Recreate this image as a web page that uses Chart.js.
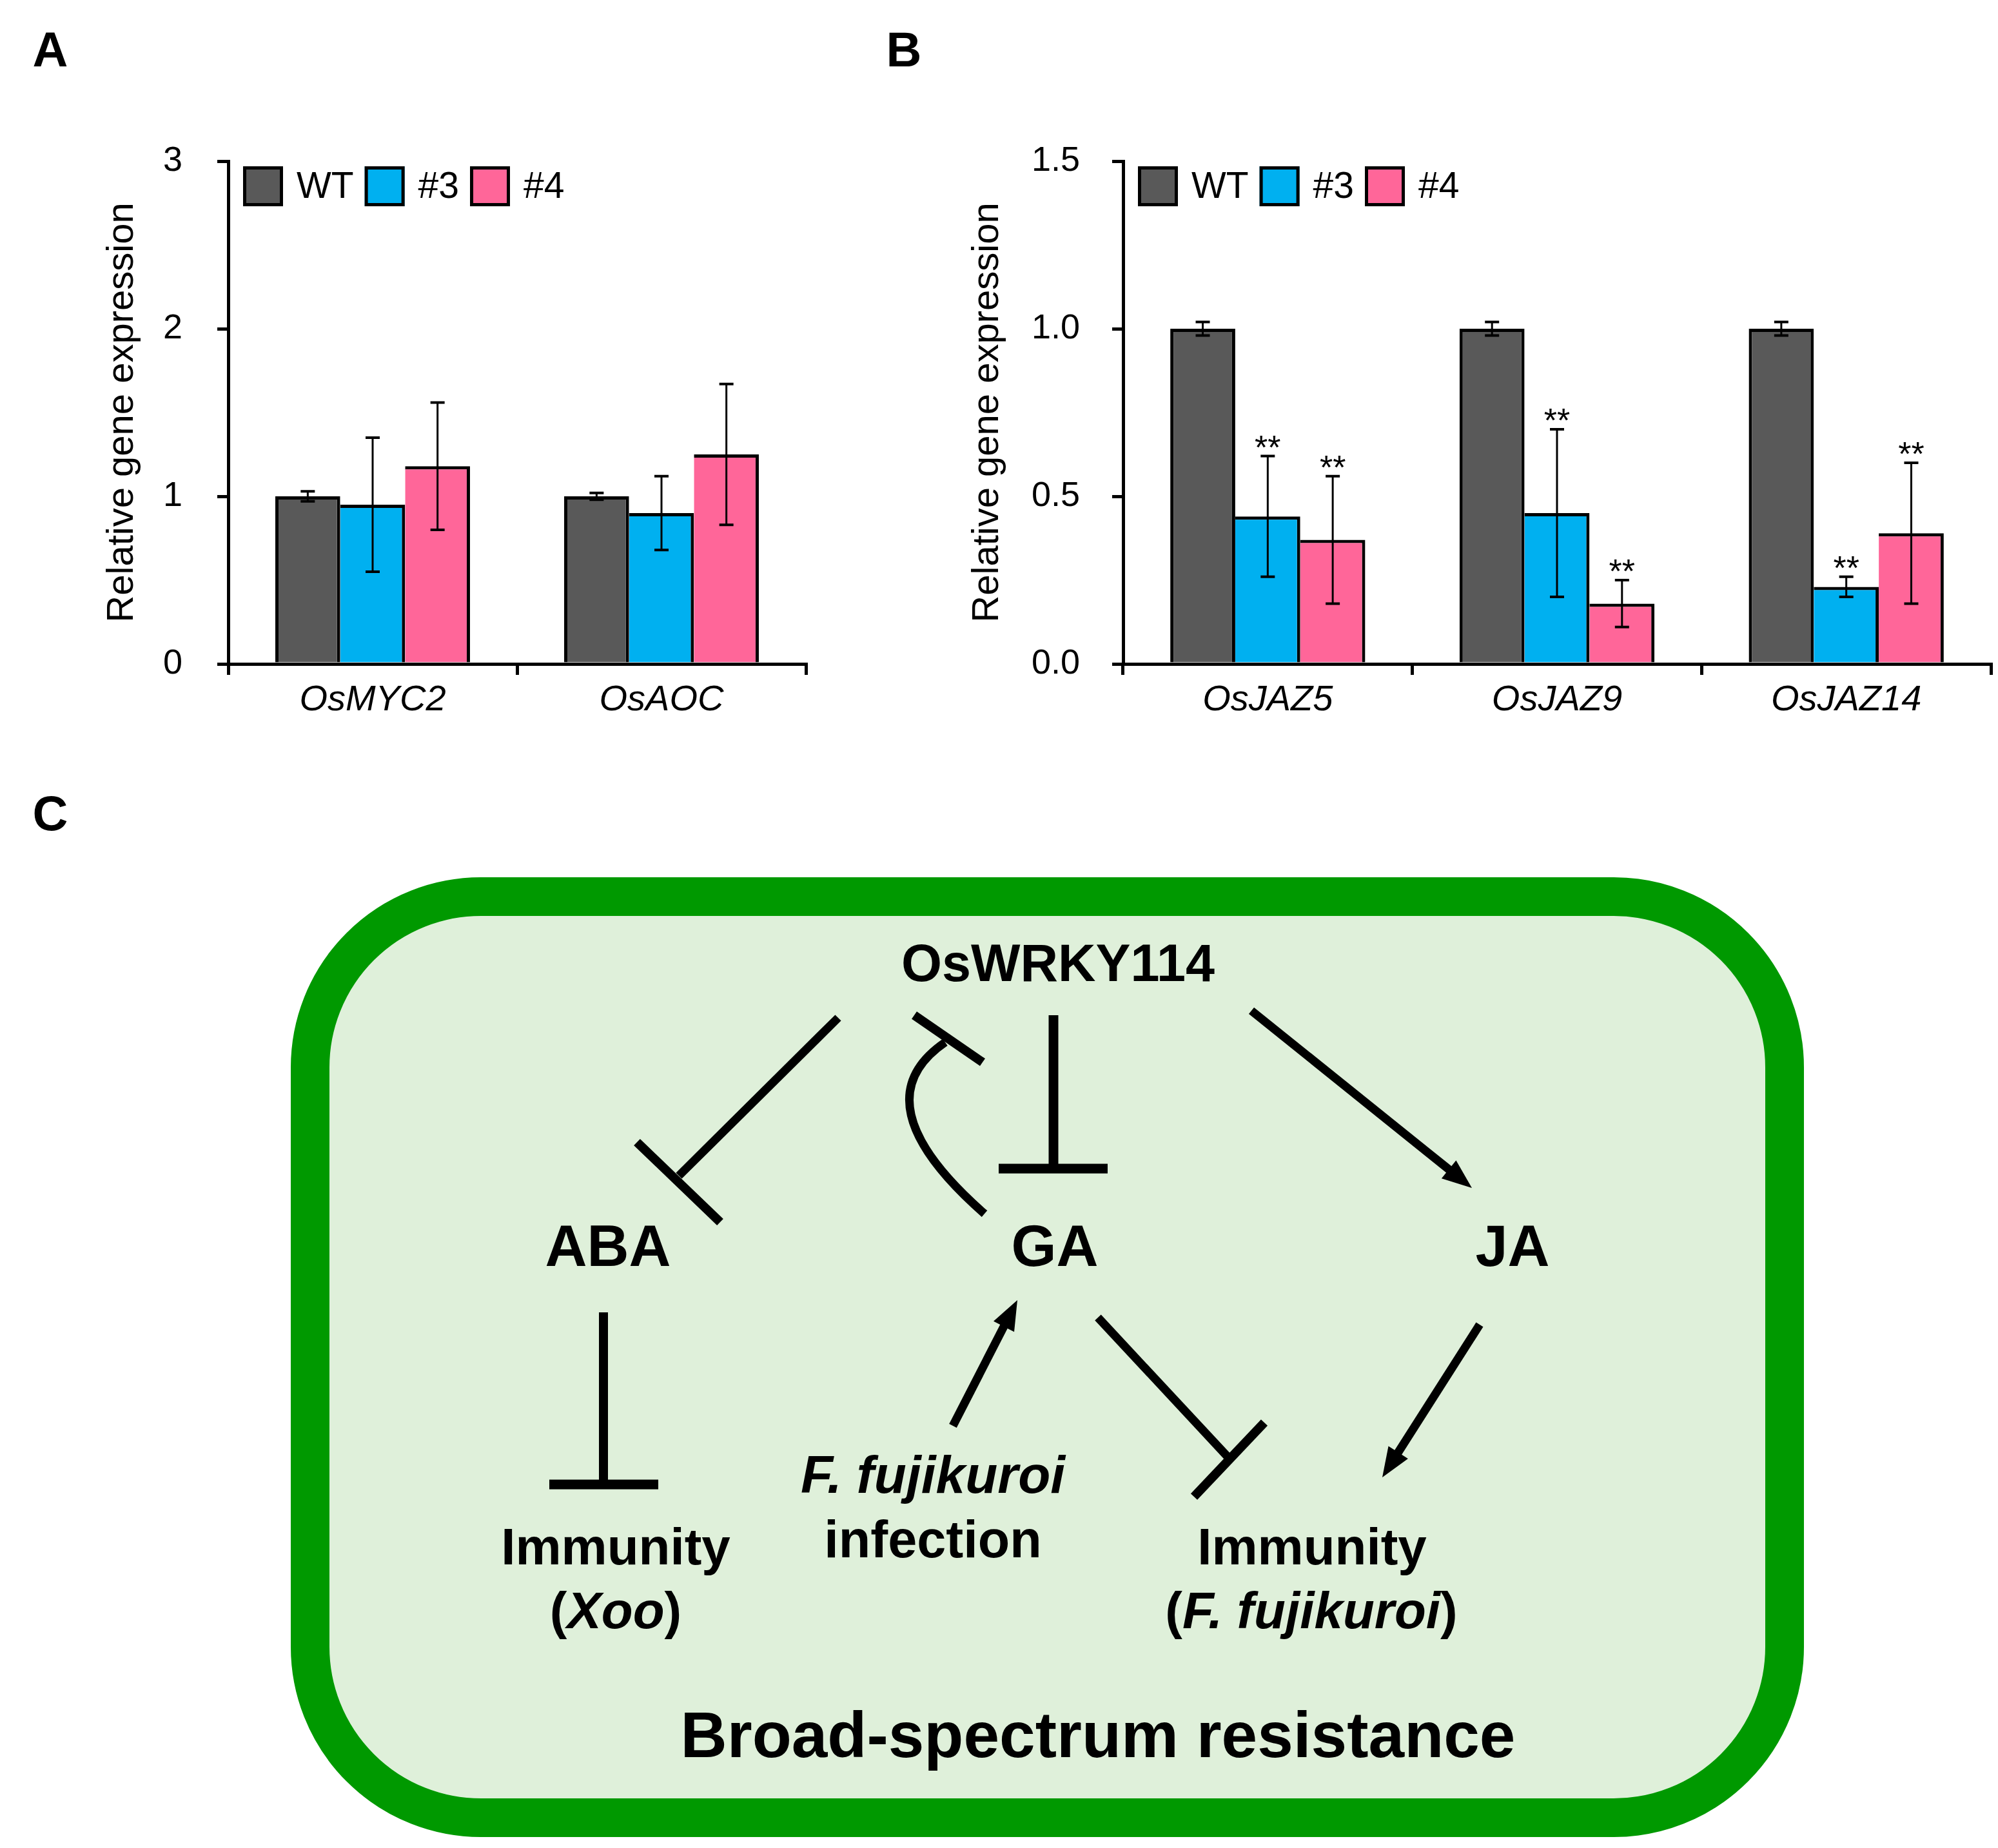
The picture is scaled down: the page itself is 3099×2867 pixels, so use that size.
<!DOCTYPE html>
<html>
<head>
<meta charset="utf-8">
<script src="https://cdn.jsdelivr.net/npm/chart.js@4.4.0/dist/chart.umd.min.js"></script>
<style>
html, body { margin:0; padding:0; background:#fff; overflow:hidden; }
#page { position:relative; width:3099px; height:2867px; }
canvas { position:absolute; }
#diagram { position:absolute; left:0; top:0; }
</style>
</head>
<body>
<div id="page">
<svg id="diagram" width="3099" height="2867" viewBox="0 0 3099 2867"></svg>
<canvas id="chartA" width="1300" height="1150" style="left:0;top:0;width:1300px;height:1150px"></canvas>
<canvas id="chartB" width="1749" height="1150" style="left:1350px;top:0;width:1749px;height:1150px"></canvas>
</div>
<script>
// data
var lines = ["WT", "#3", "#4"];
var lineColors = ["#595959", "#00b0f0", "#ff6699"];

var genesA = ["OsMYC2", "OsAOC"];
var wtA = [1.00, 1.00];
var l3A = [0.95, 0.90];
var l4A = [1.18, 1.25];
var wtAerr = [0.03, 0.02];
var l3Aerr = [0.40, 0.22];
var l4Aerr = [0.38, 0.42];
var ticksA = [0, 1, 2, 3];

var genesB = ["OsJAZ5", "OsJAZ9", "OsJAZ14"];
var wtB = [1.00, 1.00, 1.00];
var l3B = [0.44, 0.45, 0.23];
var l4B = [0.37, 0.18, 0.39];
var wtBerr = [0.02, 0.02, 0.02];
var l3Berr = [0.18, 0.25, 0.03];
var l4Berr = [0.19, 0.07, 0.21];
var sigB3 = ["**", "**", "**"];
var sigB4 = ["**", "**", "**"];
var ticksB = [0, 0.5, 1.0, 1.5];

var FONT = '"Liberation Sans", Arial, sans-serif';
Chart.defaults.font.family = FONT;
Chart.defaults.color = "#000";

var errorBars = {
  id: "errorBars",
  afterDatasetsDraw: function(chart) {
    var ctx = chart.ctx, y = chart.scales.y;
    chart.data.datasets.forEach(function(ds, i) {
      var meta = chart.getDatasetMeta(i);
      meta.data.forEach(function(bar, j) {
        var v = ds.data[j], e = ds.errors[j];
        var top = y.getPixelForValue(v + e), bot = y.getPixelForValue(v - e);
        ctx.save();
        ctx.strokeStyle = "#000";
        ctx.lineWidth = 3;
        ctx.beginPath();
        ctx.moveTo(bar.x, top); ctx.lineTo(bar.x, bot);
        ctx.stroke();
        ctx.lineWidth = 4;
        ctx.beginPath();
        ctx.moveTo(bar.x - 11, top); ctx.lineTo(bar.x + 11, top);
        ctx.moveTo(bar.x - 11, bot); ctx.lineTo(bar.x + 11, bot);
        ctx.stroke();
        if (ds.stars && ds.stars[j]) {
          ctx.fillStyle = "#000";
          ctx.font = "52px " + FONT;
          ctx.textAlign = "center";
          ctx.textBaseline = "alphabetic";
          ctx.fillText(ds.stars[j], bar.x, top + 4);
        }
        ctx.restore();
      });
    });
  }
};

var boxLegend = {
  id: "boxLegend",
  afterDraw: function(chart) {
    var ctx = chart.ctx, a = chart.chartArea;
    var x = a.left + 23, top = a.top + 8, s = 62;
    ctx.save();
    ctx.font = "57px " + FONT;
    chart.data.datasets.forEach(function(ds) {
      ctx.fillStyle = ds.backgroundColor;
      ctx.fillRect(x, top, s, s);
      ctx.lineWidth = 5;
      ctx.strokeStyle = "#000";
      ctx.strokeRect(x + 2.5, top + 2.5, s - 5, s - 5);
      ctx.fillStyle = "#000";
      ctx.textAlign = "left";
      ctx.textBaseline = "middle";
      ctx.fillText(ds.label, x + s + 21, top + s / 2 + 2);
      x += s + 21 + ctx.measureText(ds.label).width + 17;
    });
    ctx.restore();
  }
};

function makeSets(vals, errs, stars) {
  return vals.map(function(v, i) {
    var bw = i === 0 ? {top: 5, left: 5, right: 5, bottom: 0} : {top: 5, left: 0, right: 5, bottom: 0};
    return {
      label: lines[i],
      data: v,
      errors: errs[i],
      stars: stars ? stars[i] : null,
      backgroundColor: lineColors[i],
      borderColor: "#000",
      borderWidth: bw,
      borderSkipped: false,
      barPercentage: 1,
      categoryPercentage: 0.674
    };
  });
}

function makeChart(id, labels, sets, ticks, yWidth, titlePad, tickPad, rightPad, fmt) {
  return new Chart(document.getElementById(id), {
    type: "bar",
    data: { labels: labels, datasets: sets },
    plugins: [errorBars, boxLegend],
    options: {
      responsive: false,
      devicePixelRatio: 1,
      animation: false,
      layout: { padding: { top: 250, right: rightPad, bottom: 0, left: 0 } },
      plugins: { legend: { display: false }, tooltip: { enabled: false } },
      scales: {
        x: {
          type: "category",
          ticks: { font: { size: 56, style: "italic" }, color: "#000", padding: 6 },
          grid: { offset: true, drawOnChartArea: false, tickLength: 17, lineWidth: 5, color: "#000" },
          border: { color: "#000", width: 5 },
          afterFit: function(s) { s.height = 120; }
        },
        y: {
          min: ticks[0],
          max: ticks[ticks.length - 1],
          ticks: { stepSize: ticks[1] - ticks[0], font: { size: 54 }, color: "#000", padding: tickPad,
                   callback: function(v) { return fmt(v); } },
          grid: { drawOnChartArea: false, tickLength: 17, lineWidth: 5, color: "#000" },
          border: { color: "#000", width: 5 },
          title: { display: true, text: "Relative gene expression", font: { size: 58 }, color: "#000",
                   padding: { top: titlePad, bottom: 0 } },
          afterFit: function(s) { s.width = yWidth; }
        }
      }
    }
  });
}

makeChart("chartA", genesA, makeSets([wtA, l3A, l4A], [wtAerr, l3Aerr, l4Aerr], null),
  ticksA, 354, 155, 54, 50, function(v) { return String(v); });
makeChart("chartB", genesB, makeSets([wtB, l3B, l4B], [wtBerr, l3Berr, l4Berr], [null, sigB3, sigB4]),
  ticksB, 392, 147, 50, 11, function(v) { return v.toFixed(1); });

// panel C diagram
var NS = "http://www.w3.org/2000/svg";
var svg = document.getElementById("diagram");
function el(tag, attrs, parent) {
  var e = document.createElementNS(NS, tag);
  for (var k in attrs) e.setAttribute(k, attrs[k]);
  (parent || svg).appendChild(e);
  return e;
}
function txt(x, y, size, parts, extra) {
  var t = el("text", Object.assign({x: x, y: y, "font-size": size, "font-family": FONT, "font-weight": "bold",
    "text-anchor": "middle", fill: "#000"}, extra || {}));
  parts.forEach(function(p) {
    var s = el("tspan", p[1] ? {"font-style": "italic"} : {}, t);
    s.textContent = p[0];
  });
  return t;
}
function seg(x1, y1, x2, y2, w) {
  el("line", {x1: x1, y1: y1, x2: x2, y2: y2, stroke: "#000", "stroke-width": w || 13});
}
function arrow(x1, y1, x2, y2) {
  var dx = x2 - x1, dy = y2 - y1, L = Math.sqrt(dx * dx + dy * dy);
  var ux = dx / L, uy = dy / L, hl = 46, hw = 18;
  var bx = x2 - ux * hl, by = y2 - uy * hl;
  seg(x1, y1, bx + ux * 4, by + uy * 4);
  el("polygon", {points: x2 + "," + y2 + " " + (bx - uy * hw) + "," + (by + ux * hw) + " " + (bx + uy * hw) + "," + (by - ux * hw), fill: "#000"});
}

txt(78, 103, 76, [["A"]]);
txt(1402, 103, 76, [["B"]]);
txt(78, 1288, 76, [["C"]]);

el("rect", {x: 481, y: 1391, width: 2287, height: 1429, rx: 265, ry: 265, fill: "#dff0da", stroke: "#009900", "stroke-width": 60});

txt(1641, 1522, 81, [["OsWRKY114"]]);
txt(943, 1964, 90, [["ABA"]]);
txt(1636, 1964, 90, [["GA"]]);
txt(2346, 1964, 90, [["JA"]]);
txt(955, 2427, 80, [["Immunity"]]);
txt(955, 2526, 80, [["("], ["Xoo", true], [")"]]);
txt(1447, 2316, 82, [["F. fujikuroi", true]]);
txt(1447, 2416, 81, [["infection"]]);
txt(2035, 2427, 80, [["Immunity"]]);
txt(2034, 2526, 80, [["("], ["F. fujikuroi", true], [")"]]);
txt(1703, 2726, 100, [["Broad-spectrum resistance"]]);

// OsWRKY114 -| ABA
seg(1300, 1579, 1053, 1824);
seg(988, 1772, 1117, 1896, 14);
// GA -| OsWRKY114 (curved)
el("path", {d: "M1527,1883 Q1330,1710 1466,1617", fill: "none", stroke: "#000", "stroke-width": 13});
seg(1418, 1575, 1524, 1648, 14);
// OsWRKY114 -| GA
seg(1634, 1575, 1634, 1813, 15);
seg(1549, 1813, 1718, 1813, 15);
// OsWRKY114 -> JA
arrow(1941, 1568, 2283, 1843);
// ABA -| Immunity (Xoo)
seg(936, 2036, 936, 2303, 14);
seg(852, 2303, 1021, 2303, 15);
// F. fujikuroi -> GA
arrow(1478, 2212, 1578, 2017);
// GA -| Immunity (F. fujikuroi)
seg(1703, 2044, 1906, 2262);
seg(1852, 2322, 1961, 2207, 14);
// JA -> Immunity
arrow(2295, 2055, 2144, 2292);
</script>
</body>
</html>
